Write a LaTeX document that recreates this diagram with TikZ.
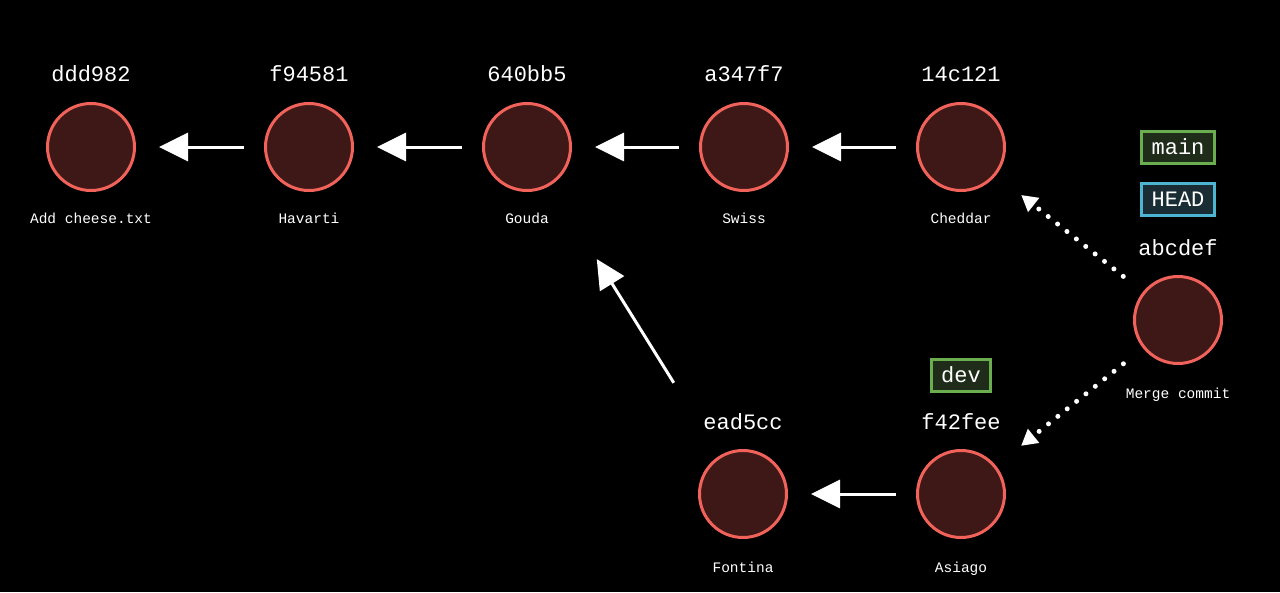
\documentclass[tikz,border=0pt]{standalone}
\usepackage{fontspec}
\setmonofont{Liberation Mono}
\usetikzlibrary{arrows.meta}
\definecolor{CommitFill}{HTML}{3D1816}
\definecolor{CommitLine}{HTML}{F0625A}
\definecolor{BranchFill}{HTML}{1E2C19}
\definecolor{BranchLine}{HTML}{6AAE50}
\definecolor{HeadFill}{HTML}{1A2C34}
\definecolor{HeadLine}{HTML}{4DB5D2}

\begin{document}
\begin{tikzpicture}[x=1pt,y=-1pt,
  commit/.style={circle,draw=CommitLine,fill=CommitFill,line width=3pt,minimum size=87pt,inner sep=0pt},
  hash/.style={text=white,font=\ttfamily\fontsize{22}{22}\selectfont,inner sep=0pt},
  msg/.style={text=white,font=\ttfamily\fontsize{14.5}{14.5}\selectfont,inner sep=0pt,anchor=base},
  branch/.style={draw=BranchLine,fill=BranchFill,line width=3pt,text=white,
    font=\ttfamily\fontsize{22}{22}\selectfont,inner xsep=10pt,inner ysep=9pt,
    text height=14pt,text depth=0pt},
  headref/.style={branch,draw=HeadLine,fill=HeadFill},
  parent/.style={draw=white,line width=3pt,-{Triangle[length=29pt,width=28pt]}},
  mergeparent/.style={draw=white,line width=5pt,line cap=round,dash pattern=on 0pt off 12pt,
    -{Triangle[length=16pt,width=17pt]}}]

\fill[black] (0,0) rectangle (1280,592);
\useasboundingbox (0,0) rectangle (1280,592);

\node[commit] (ddd982) at (91,147) {};
\node[commit] (f94581) at (309,147) {};
\node[commit] (640bb5) at (527,147) {};
\node[commit] (a347f7) at (744,147) {};
\node[commit] (14c121) at (961,147) {};
\node[commit] (ead5cc) at (743,494) {};
\node[commit] (f42fee) at (961,494) {};
\node[commit] (abcdef) at (1178,320) {};

\node[hash] (h-ddd982) at (91,74) {ddd982};
\node[hash] (h-f94581) at (309,74) {f94581};
\node[hash] (h-640bb5) at (527,74) {640bb5};
\node[hash] (h-a347f7) at (744,74) {a347f7};
\node[hash] (h-14c121) at (961,74) {14c121};
\node[hash] (h-ead5cc) at (743,422) {ead5cc};
\node[hash] (h-f42fee) at (961,422) {f42fee};
\node[hash] (h-abcdef) at (1178,248) {abcdef};

\node[msg] (m-ddd982) at (91,223) {Add cheese.txt};
\node[msg] (m-f94581) at (309,223) {Havarti};
\node[msg] (m-640bb5) at (527,223) {Gouda};
\node[msg] (m-a347f7) at (744,223) {Swiss};
\node[msg] (m-14c121) at (961,223) {Cheddar};
\node[msg] (m-ead5cc) at (743,572) {Fontina};
\node[msg] (m-f42fee) at (961,572) {Asiago};
\node[msg] (m-abcdef) at (1178,398) {Merge commit};

\node[branch] (main) at (1178,147) {main};
\node[headref] (head) at (1178,199) {HEAD};
\node[branch] (dev) at (961,375) {dev};

\draw[parent,shorten <=20pt,shorten >=23pt] (f94581) -- (ddd982);
\draw[parent,shorten <=20pt,shorten >=23pt] (640bb5) -- (f94581);
\draw[parent,shorten <=20pt,shorten >=23pt] (a347f7) -- (640bb5);
\draw[parent,shorten <=20pt,shorten >=23pt] (14c121) -- (a347f7);
\draw[parent,shorten <=20pt,shorten >=23pt] (f42fee) -- (ead5cc);
\draw[parent,shorten <=86pt,shorten >=87pt] (ead5cc) -- (640bb5);

\draw[mergeparent,shorten <=25pt,shorten >=32pt] (abcdef) -- (14c121);
\draw[mergeparent,shorten <=25pt,shorten >=32pt] (abcdef) -- (f42fee);

\end{tikzpicture}
\end{document}
